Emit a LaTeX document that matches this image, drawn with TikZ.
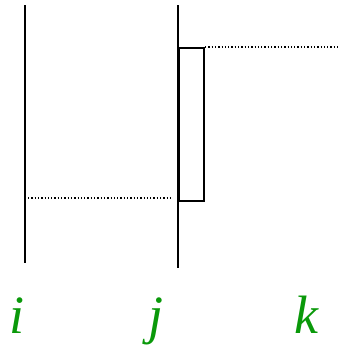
\documentclass[tikz,border=0pt]{standalone}
\usepackage{fontspec}
\setmainfont{Liberation Serif}
\usepackage{tikz}
\definecolor{labcol}{HTML}{0A990A}

\begin{document}
\begin{tikzpicture}[x=1pt,y=-1pt,
  life/.style={line width=2pt},
  act/.style={draw,line width=2pt,minimum width=25pt,minimum height=153pt,
              inner sep=0pt,anchor=north west},
  msg/.style={dash pattern=on 1.3pt off 2pt,line width=1.2pt},
  lab/.style={font=\fontsize{54}{60}\selectfont\itshape,text=labcol,anchor=base},
]
\useasboundingbox (0,0) rectangle (340,346);

% life lines
\coordinate (itop) at (25,5);
\coordinate (ibot) at (25,263);
\coordinate (jtop) at (178,5);
\coordinate (jbot) at (178,268);
\draw[life] (itop) -- (ibot);
\draw[life] (jtop) -- (jbot);

% activation box on j
\node[act] (box) at (178,47) {};

% messages
\coordinate (ifrom) at (28,198);
\coordinate (jto) at (172,198);
\coordinate (kend) at (340,47);
\draw[msg] (ifrom) -- (jto);
\draw[msg] (box.north east) -- (kend);

% labels
\node[lab] (li) at (17,333) {i};
\node[lab] (lj) at (156,333) {j};
\node[lab] (lk) at (306,333) {k};
\end{tikzpicture}
\end{document}
